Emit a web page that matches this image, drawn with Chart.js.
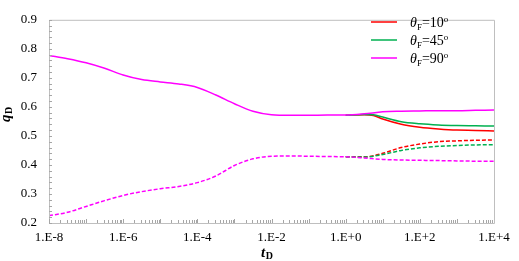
<!DOCTYPE html>
<html><head><meta charset="utf-8">
<script src="https://cdn.jsdelivr.net/npm/chart.js@4/dist/chart.umd.min.js"></script>
<style>html,body{margin:0;padding:0;background:#fff}#wrap{width:519px;height:261px}</style>
</head><body><div id="wrap"><canvas id="c" width="519" height="261"></canvas></div>
<script>
// log10(tD) grid points
const expFull = [-8,-7.5,-7,-6.5,-6,-5.5,-5,-4.5,-4,-3.5,-3,-2.5,-2,-1.5,-1,-0.5,0,0.5,1,1.5,2,2.5,3,3.5,4];
const expLate = [0,0.5,0.75,1,1.5,2,2.5,3,3.5,4];
const expLateD = [0,0.5,1,1.5,2,2.5,3,3.5,4];
// solid curves
const q90solid = [0.777,0.766,0.752,0.733,0.710,0.694,0.686,0.679,0.667,0.641,0.611,0.585,0.573,0.571,0.571,0.572,0.572,0.576,0.583,0.585,0.586,0.587,0.587,0.588,0.589];
const q45solid = [0.571,0.574,0.573,0.565,0.549,0.542,0.538,0.536,0.535,0.534];
const q10solid = [0.571,0.573,0.570,0.558,0.540,0.530,0.524,0.520,0.519,0.517];
// dashed curves
const q90dash = [0.225,0.237,0.257,0.277,0.295,0.308,0.318,0.326,0.339,0.362,0.398,0.421,0.430,0.431,0.430,0.429,0.428,0.424,0.419,0.417,0.416,0.415,0.414,0.413,0.413];
const q45dash = [0.428,0.427,0.436,0.450,0.459,0.464,0.467,0.469,0.470];
const q10dash = [0.428,0.428,0.440,0.460,0.472,0.480,0.483,0.485,0.486];
const xTickExps = [-8,-6,-4,-2,0,2,4];
const yTicks = [0.2,0.3,0.4,0.5,0.6,0.7,0.8,0.9];
const legendNames = ['10','45','90'];
const RED='#ff0000', GREEN='#00b050', MAG='#ff00ff';

const pts = (ex, ys) => ex.map((e,i)=>({x:Math.pow(10,e), y:ys[i]}));
const ds = (ex, ys, color, dashed) => ({data:pts(ex,ys), borderColor:color, borderWidth:1.5, pointRadius:0, fill:false,
  cubicInterpolationMode:'monotone', borderDash: dashed?[4,2]:[]});

const SERIF = "'Liberation Serif','Times New Roman',serif";

const extras = {
  id:'extras',
  afterDraw(chart){
    const ctx = chart.ctx, a = chart.chartArea, xs = chart.scales.x, ys = chart.scales.y;
    ctx.save();
    ctx.strokeStyle = '#bfbfbf'; ctx.lineWidth = 1;
    ctx.beginPath();
    ctx.moveTo(a.left+0.5, a.bottom+0.5); ctx.lineTo(a.left+0.5, a.top+0.5); ctx.lineTo(a.right+0.5, a.top+0.5); ctx.lineTo(a.right+0.5, a.bottom+0.5); ctx.lineTo(a.left+0.5, a.bottom+0.5);
    ctx.stroke();
    ctx.strokeStyle = '#a6a6a6';
    ctx.beginPath();
    for (let d=-8; d<4; d++){
      for (let m=1; m<10; m++){
        const px = Math.round(xs.getPixelForValue(m*Math.pow(10,d)))+0.5;
        const len = m===1?4:3;
        ctx.moveTo(px, a.bottom); ctx.lineTo(px, a.bottom-len);
      }
    }
    for (let v=0.2; v<0.901; v+=0.02){
      const py = Math.round(ys.getPixelForValue(v))+0.5;
      ctx.moveTo(a.left, py); ctx.lineTo(a.left+3, py);
    }
    ctx.stroke();
    // legend
    const colors=[RED,GREEN,MAG];
    legendNames.forEach((n,i)=>{
      const y = 22 + i*18;
      ctx.strokeStyle = colors[i]; ctx.lineWidth = 1.5;
      ctx.beginPath(); ctx.moveTo(371,y); ctx.lineTo(397,y); ctx.stroke();
      ctx.fillStyle = '#000'; ctx.textBaseline='alphabetic'; ctx.textAlign='left';
      let x = 410; const base = y+5;
      ctx.font = "italic 14px "+SERIF; ctx.fillText('\u03b8', x, base); x += ctx.measureText('\u03b8').width;
      ctx.font = "9px "+SERIF; ctx.fillText('F', x, base+3); x += ctx.measureText('F').width;
      ctx.font = "14px "+SERIF; const t='='+n; ctx.fillText(t, x, base); x += ctx.measureText(t).width;
      ctx.font = "9px "+SERIF; ctx.fillText('o', x, base-5);
    });
    // axis titles
    ctx.fillStyle='#000';
    ctx.font = "bold italic 15px "+SERIF;
    ctx.textAlign='left';
    let tw = ctx.measureText('t').width;
    ctx.fillText('t', 261, 257);
    ctx.font = "bold 10px "+SERIF; ctx.fillText('D', 261+tw+0.5, 259);
    ctx.save();
    ctx.translate(10, 122); ctx.rotate(-Math.PI/2);
    ctx.font = "bold italic 15px "+SERIF; ctx.fillText('q', 0, 0);
    tw = ctx.measureText('q').width;
    ctx.font = "bold 10px "+SERIF; ctx.fillText('D', tw+0.5, 2);
    ctx.restore();
    ctx.restore();
  }
};

new Chart(document.getElementById('c'), {
  type:'line',
  data:{datasets:[
    ds(expFull,q90solid,MAG,false),
    ds(expFull,q90dash,MAG,true),
    ds(expLate,q45solid,GREEN,false),
    ds(expLateD,q45dash,GREEN,true),
    ds(expLate,q10solid,RED,false),
    ds(expLateD,q10dash,RED,true)
  ]},
  options:{
    responsive:false, animation:false, devicePixelRatio:1,
    layout:{padding:{left:0,right:25,top:5,bottom:0}},
    plugins:{legend:{display:false}, tooltip:{enabled:false}},
    scales:{
      x:{type:'logarithmic', min:1e-8, max:1e4,
        afterBuildTicks(s){ s.ticks = xTickExps.map(e=>({value:Math.pow(10,e), major:true})); },
        afterFit(s){ s.height = 38; },
        grid:{display:false, drawTicks:false},
        border:{display:false},
        ticks:{autoSkip:false, maxRotation:0, padding:7, color:'#000', font:{family:SERIF, size:13},
          callback(v){ const e=Math.round(Math.log10(v)); return '1.E'+(e<0?'-':'+')+Math.abs(e); }}
      },
      y:{min:0.2, max:0.9,
        afterBuildTicks(s){ s.ticks = yTicks.map(v=>({value:v})); },
        afterFit(s){ s.width = 49; },
        grid:{display:false, drawTicks:false},
        border:{display:false},
        ticks:{padding:12, color:'#000', font:{family:SERIF, size:13}, callback(v){ return v.toFixed(1); }}
      }
    }
  },
  plugins:[extras]
});
</script></body></html>
